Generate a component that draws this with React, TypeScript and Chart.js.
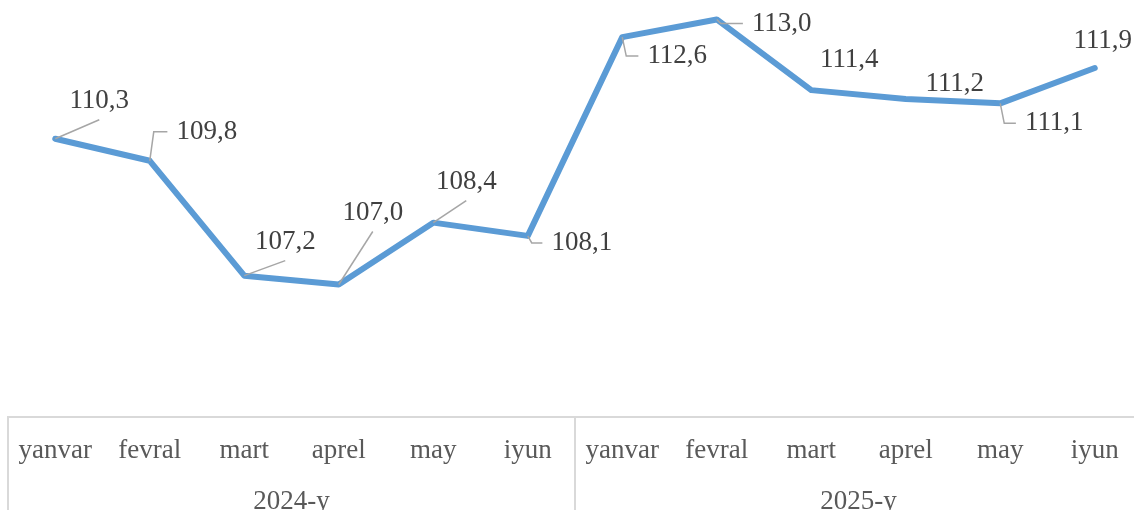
import React, { useEffect, useRef } from 'react';
import { Chart, registerables } from 'chart.js';

Chart.register(...registerables);

// ---- data ----
const MONTHS = ['yanvar', 'fevral', 'mart', 'aprel', 'may', 'iyun', 'yanvar', 'fevral', 'mart', 'aprel', 'may', 'iyun'];
const YEARS = ['2024-y', '2025-y'];
const MONTHS_PER_YEAR = 6;
const VALUES = [110.3, 109.8, 107.2, 107.0, 108.4, 108.1, 112.6, 113.0, 111.4, 111.2, 111.1, 111.9];

// ---- label layout (offset of label centre from its point, leader style) ----
const LABEL_DX = [44, 57, 41, 34, 33, 54, 55, 65, 38, 49, 54, 8];
const LABEL_DY = [-38, -29, -34, -72, -41, 7, 19, 4, -30, -15, 20, -27];
const LEADER = ['line', 'elbow', 'line', 'line', 'line', 'elbow', 'elbow', 'elbow', 'none', 'none', 'elbow', 'none'];

const FONT = '"Liberation Serif", "Times New Roman", serif';
const FONT_SIZE = 27;
const LINE_COLOR = '#5B9BD5';
const LABEL_COLOR = '#404040';
const AXIS_COLOR = '#595959';
const GRID_COLOR = '#D9D9D9';
const LEADER_COLOR = '#A6A6A6';

const fmt = (v: number) => v.toFixed(1).replace('.', ',');

const labelPlugin = {
  id: 'leaderLabels',
  afterDatasetsDraw(chart: any) {
    const ctx = chart.ctx;
    const meta = chart.getDatasetMeta(0);
    ctx.save();
    ctx.font = `${FONT_SIZE}px ${FONT}`;
    ctx.textBaseline = 'middle';
    ctx.textAlign = 'center';
    meta.data.forEach((pt: any, i: number) => {
      const px = pt.x;
      const py = pt.y;
      const cx = px + LABEL_DX[i];
      const cy = py + LABEL_DY[i];
      const text = fmt(VALUES[i]);
      const w = ctx.measureText(text).width;
      const left = cx - w / 2;
      ctx.strokeStyle = LEADER_COLOR;
      ctx.lineWidth = 1.5;
      if (LEADER[i] === 'line') {
        ctx.beginPath();
        ctx.moveTo(px, py);
        ctx.lineTo(cx, cy + 19);
        ctx.stroke();
      } else if (LEADER[i] === 'elbow') {
        ctx.beginPath();
        ctx.moveTo(px, py);
        ctx.lineTo(px + 4, cy);
        ctx.lineTo(left - 9, cy);
        ctx.stroke();
      }
      ctx.fillStyle = LABEL_COLOR;
      ctx.fillText(text, cx, cy);
    });
    ctx.restore();
  },
};

const tablePlugin = {
  id: 'tableAxis',
  afterDraw(chart: any) {
    const ctx = chart.ctx;
    const x = chart.scales.x;
    const top = chart.chartArea.bottom;
    const bottom = chart.height;
    const half = (x.getPixelForValue(1) - x.getPixelForValue(0)) / 2;
    ctx.save();
    ctx.strokeStyle = GRID_COLOR;
    ctx.lineWidth = 2;
    ctx.font = `${FONT_SIZE}px ${FONT}`;
    ctx.fillStyle = AXIS_COLOR;
    ctx.textAlign = 'center';
    ctx.textBaseline = 'alphabetic';
    YEARS.forEach((yr, g) => {
      const a = x.getPixelForValue(g * MONTHS_PER_YEAR) - half;
      const b = x.getPixelForValue(g * MONTHS_PER_YEAR + MONTHS_PER_YEAR - 1) + half;
      ctx.beginPath();
      ctx.moveTo(a, top);
      ctx.lineTo(a, bottom);
      ctx.stroke();
      if (g === YEARS.length - 1) {
        ctx.beginPath();
        ctx.moveTo(b, top);
        ctx.lineTo(b, bottom);
        ctx.stroke();
      }
      ctx.fillText(yr, (a + b) / 2, 509);
    });
    ctx.restore();
  },
};

export default function App() {
  const ref = useRef<HTMLCanvasElement | null>(null);
  useEffect(() => {
    if (!ref.current) return;
    const chart = new Chart(ref.current, {
      type: 'line',
      data: {
        labels: MONTHS,
        datasets: [
          {
            data: VALUES,
            borderColor: LINE_COLOR,
            borderWidth: 6,
            pointRadius: 0,
            borderJoinStyle: 'round',
            borderCapStyle: 'round',
            tension: 0,
            fill: false,
          },
        ],
      },
      options: {
        animation: false,
        responsive: false,
        devicePixelRatio: 1,
        layout: { padding: { left: 8, right: 0, top: 0, bottom: 0 } },
        plugins: { legend: { display: false }, tooltip: { enabled: false } },
        scales: {
          x: {
            type: 'category',
            offset: true,
            grid: { display: false, drawTicks: false },
            border: { display: true, color: GRID_COLOR, width: 2 },
            ticks: {
              color: AXIS_COLOR,
              font: { family: FONT, size: FONT_SIZE },
              padding: 18,
              maxRotation: 0,
              autoSkip: false,
            },
            afterFit: (s: any) => {
              s.height = 93;
            },
          },
          y: {
            display: false,
            min: 104,
            max: 113.44,
          },
        },
      },
      plugins: [labelPlugin, tablePlugin],
    });
    return () => chart.destroy();
  }, []);
  return (
    <div style={{ position: 'absolute', left: 0, top: 0, width: 1134, height: 510, overflow: 'hidden', background: '#fff' }}>
      <canvas ref={ref} width={1142} height={510} style={{ display: 'block' }} />
    </div>
  );
}
